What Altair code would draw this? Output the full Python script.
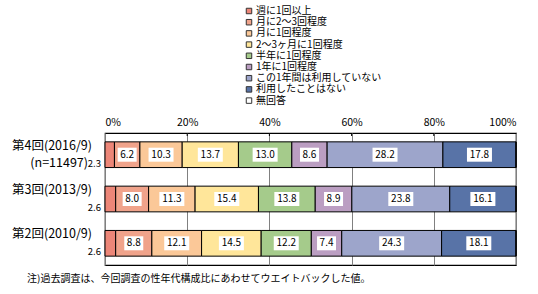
import altair as alt
import pandas as pd

FONT = "Noto Sans CJK JP"

rounds = ["第4回(2016/9)", "第3回(2013/9)", "第2回(2010/9)"]
sub_labels = ["(n=11497)", "", ""]
categories = ["週に1回以上", "月に2～3回程度", "月に1回程度", "2～3ヶ月に1回程度",
              "半年に1回程度", "1年に1回程度", "この1年間は利用していない",
              "利用したことはない", "無回答"]
colors = ["#EC8678", "#F0A38B", "#FBC898", "#FFE69A", "#A5CB8B",
          "#BB9EC2", "#9DA5CB", "#5873A7", "#FFFFFF"]
values_r4 = [2.3, 6.2, 10.3, 13.7, 13.0, 8.6, 28.2, 17.8, 0.0]
values_r3 = [2.6, 8.0, 11.3, 15.4, 13.8, 8.9, 23.8, 16.1, 0.0]
values_r2 = [2.6, 8.8, 12.1, 14.5, 12.2, 7.4, 24.3, 18.1, 0.0]
tick_vals = [0, 0.2, 0.4, 0.6, 0.8, 1.0]
footnote = ["注)過去調査は、今回調査の性年代構成比にあわせてウエイトバックした値。"]

rows = []
for r, vals in zip(rounds, [values_r4, values_r3, values_r2]):
    for i, (c, v) in enumerate(zip(categories, vals)):
        rows.append({"round": r, "cat": c, "order": i, "value": v,
                     "label": f"{v:.1f}"})
df = pd.DataFrame(rows)
lab_df = pd.DataFrame({"round": rounds, "sub": sub_labels})

yscale = alt.Scale(domain=rounds, paddingInner=0.42, paddingOuter=0.2)
Y = alt.Y("round:N", scale=yscale, axis=None)

base = alt.Chart(df).transform_stack(
    stack="value", groupby=["round"], as_=["x0", "x1"], offset="normalize",
    sort=[alt.SortField("order", order="ascending")]
).transform_calculate(mid="(datum.x0 + datum.x1) / 2")

xscale = alt.Scale(domain=[0, 1], nice=False, zero=True)

bars = base.mark_bar(stroke="black", strokeWidth=1).encode(
    x=alt.X("x0:Q", scale=xscale,
            axis=alt.Axis(orient="top", values=tick_vals, format=".0%",
                          labelFont=FONT, labelFontSize=10.5, labelColor="black",
                          labelPadding=6, tickSize=0, domain=False,
                          grid=True, gridColor="#808080", gridWidth=1,
                          title=None)),
    x2="x1:Q",
    y=Y,
    color=alt.Color("cat:N", scale=alt.Scale(domain=categories, range=colors),
                    legend=alt.Legend(
                        title=None, orient="none", legendX=139, legendY=-127,
                        symbolType="square", symbolSize=30,
                        symbolStrokeColor="#333333", symbolStrokeWidth=1,
                        symbolOpacity=1,
                        labelFont=FONT, labelFontSize=10, labelColor="black",
                        rowPadding=1.2, labelOffset=2, padding=0,
                        labelLimit=300)),
    order=alt.Order("order:Q"),
)

inner = base.transform_filter("datum.order >= 1 && datum.value > 0")

box_short = inner.transform_filter("length(datum.label) <= 3").mark_point(
    shape="M-1,-0.737L1,-0.737L1,0.737L-1,0.737Z", filled=True,
    fill="white", opacity=1, strokeWidth=0, size=361
).encode(x=alt.X("mid:Q", scale=xscale), y=Y)

box_long = inner.transform_filter("length(datum.label) > 3").mark_point(
    shape="M-1,-0.56L1,-0.56L1,0.56L-1,0.56Z", filled=True,
    fill="white", opacity=1, strokeWidth=0, size=625
).encode(x=alt.X("mid:Q", scale=xscale), y=Y)

val_text = inner.mark_text(font=FONT, fontSize=10, color="black").encode(
    x=alt.X("mid:Q", scale=xscale), y=Y, text="label:N")

first_text = base.transform_filter("datum.order == 0").mark_text(
    font=FONT, fontSize=9.5, color="black", align="right", dy=9
).encode(x=alt.value(-4), y=Y, text="label:N")

ticks = alt.Chart(pd.DataFrame({"t": tick_vals[1:-1]})).mark_rule(
    color="black", strokeWidth=1
).encode(x=alt.X("t:Q", scale=xscale), y=alt.value(0), y2=alt.value(3))

round_text = alt.Chart(lab_df).mark_text(
    font=FONT, fontSize=12.5, color="black", align="right", dy=-9
).encode(x=alt.value(-13), y=Y, text="round:N")

sub_text = alt.Chart(lab_df).transform_filter("datum.sub != ''").mark_text(
    font=FONT, fontSize=12.5, color="black", align="right", dy=8.5
).encode(x=alt.value(-17), y=Y, text="sub:N")

foot_text = alt.Chart(pd.DataFrame({"note": footnote})).mark_text(
    font=FONT, fontSize=10, color="black", align="left", baseline="middle"
).encode(x=alt.value(-78), y=alt.value(146), text="note:N")

chart = alt.layer(
    bars, ticks, box_short, box_long, val_text, first_text, round_text,
    sub_text, foot_text
).properties(
    width=411, height=132,
    padding={"left": 105, "top": 133, "right": 22, "bottom": 29},
    autosize="none",
).configure_view(stroke="black", strokeWidth=1.2)

chart.save("out.html", embed_options={"renderer": "svg", "actions": False})
